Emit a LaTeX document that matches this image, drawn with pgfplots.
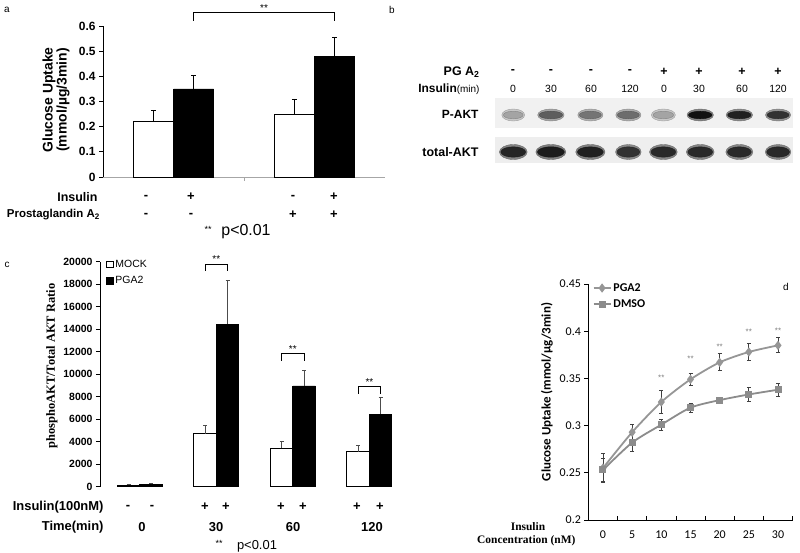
\documentclass[border=0pt]{standalone}
\usepackage{fontspec}
\setmainfont{Liberation Sans}
\newfontfamily\serf{Liberation Serif}
\newfontfamily\calib{Carlito}
\usepackage{pgfplots}
\pgfplotsset{compat=1.18}
\newcommand\fs[1]{\fontsize{#1}{#1}\selectfont}
\begin{document}
\begin{tikzpicture}
\useasboundingbox (0,0) rectangle (800bp,-553bp);
\pgfplotsset{every axis/.append style={scale only axis, clip=false,
  /pgf/number format/assume math mode=true,
  axis line style={line width=0.8bp,-},
  tick style={black,line width=0.8bp}, major tick length=4bp, tick align=outside}}

% ---------------- panel labels
\node[font=\fs{10}] at (7bp,-10bp) {a};
\node[font=\fs{10}] at (392bp,-10bp) {b};
\node[font=\fs{10}] at (7bp,-265bp) {c};
\node[font=\fs{10}] at (786bp,-287bp) {d};

% ================= PANEL A
\begin{axis}[at={(103bp,-177bp)}, anchor=south west, width=282bp, height=151bp,
  xmin=0.5, xmax=2.5, ymin=0, ymax=0.6,
  axis x line*=bottom, axis y line*=left,
  x axis line style={gray!70},
  ytick={0,0.1,0.2,0.3,0.4,0.5,0.6}, xtick={1.5}, xticklabels={},
  x tick style={gray!70},
  yticklabel style={font=\fs{12}\bfseries},
  error bars/y dir=plus, error bars/y explicit,
  error bars/error bar style={line width=0.8bp,black},
  error bars/error mark options={black,line width=0.8bp,mark size=2.5bp,rotate=90}]
\addplot[ybar, bar width=0.284, bar shift=0pt, fill=white, draw=black, line width=0.8bp]
  coordinates {(0.858,0.22) +- (0,0.045) (1.858,0.25) +- (0,0.06)};
\addplot[ybar, bar width=0.284, bar shift=0pt, fill=black, draw=black, line width=0.8bp]
  coordinates {(1.142,0.35) +- (0,0.055) (2.142,0.48) +- (0,0.075)};
\addplot[black, line width=0.6bp, no marks, forget plot]
  coordinates {(1.142,0.62) (1.142,0.653) (2.142,0.653) (2.142,0.62)};
\node[anchor=south, font=\fs{10}, inner sep=1bp] at (axis cs:1.642,0.653) {**};
\end{axis}
\node[anchor=center, font=\fs{14}\bfseries, rotate=90, align=center] at (56bp,-100bp)
  {Glucose Uptake\\(mmol/µg/3min)};
\node[anchor=east, font=\fs{12.5}\bfseries] at (101bp,-197bp) {Insulin};
\node[anchor=east, font=\fs{11.5}\bfseries, inner sep=1bp] at (101bp,-215bp) {Prostaglandin A\textsubscript{2}};
\foreach \xx/\s in {146/-,191/+,293/-,334/+}{\node[font=\fs{13}\bfseries] at (\xx bp,-197bp) {\s};}
\foreach \xx/\s in {146/-,191/-,293/+,334/+}{\node[font=\fs{13}\bfseries] at (\xx bp,-215bp) {\s};}
\node[font=\fs{9}] at (208bp,-229bp) {**};
\node[font=\fs{16}] at (246bp,-232bp) {p<0.01};

% ================= PANEL B (blot)
\begin{axis}[at={(495bp,-163bp)}, anchor=south west, width=298bp, height=65bp,
  xmin=0.5, xmax=8.5, ymin=0, ymax=65, hide axis,
  colormap={blot}{rgb255=(230,230,230) rgb255=(12,12,12)},
  point meta min=0, point meta max=1]
\addplot[fill=gray!11, draw=none, forget plot] coordinates {(0.5,35) (8.5,35) (8.5,65) (0.5,65)} -- cycle;
\addplot[fill=gray!13, draw=none, forget plot] coordinates {(0.5,0) (8.5,0) (8.5,26) (0.5,26)} -- cycle;
% soft halo of the P-AKT bands
\addplot[scatter, only marks, mark=*, scatter src=explicit, mark size=6bp,
  visualization depends on={value \thisrow{w} \as \bw},
  scatter/@pre marker code/.append style={/tikz/xscale=\bw}]
  table[x=x, y=y, meta=d] {
x y d w
0.99 48 0.14 1.9
2.00 48 0.30 2.2
3.06 48 0.25 2.1
4.08 48 0.27 2.1
5.02 48 0.14 2.0
6.01 48 0.45 2.2
7.06 48 0.42 2.2
8.10 48 0.38 2.1
};
\addplot[scatter, only marks, mark=*, scatter src=explicit, mark size=3.8bp,
  visualization depends on={value \thisrow{w} \as \bw},
  scatter/@pre marker code/.append style={/tikz/xscale=\bw}]
  table[x=x, y=y, meta=d] {
x y d w
0.99 48 0.30 2.6
2.00 48 0.62 3.1
3.06 48 0.52 2.9
4.08 48 0.55 2.9
5.02 48 0.30 2.7
6.01 48 0.97 3.1
7.06 48 0.90 3.1
8.10 48 0.82 2.9
};
% soft halo of the total-AKT bands
\addplot[scatter, only marks, mark=*, scatter src=explicit, mark size=7.5bp,
  visualization depends on={value \thisrow{w} \as \bw},
  scatter/@pre marker code/.append style={/tikz/xscale=\bw}]
  table[x=x, y=y, meta=d] {
x y d w
0.99 11 0.45 1.85
2.00 11 0.47 2.0
3.06 11 0.46 1.95
4.08 11 0.42 1.7
5.02 11 0.44 1.85
6.01 11 0.44 1.85
7.06 11 0.44 1.8
8.10 11 0.44 1.7
};
\addplot[scatter, only marks, mark=*, scatter src=explicit, mark size=5.2bp,
  visualization depends on={value \thisrow{w} \as \bw},
  scatter/@pre marker code/.append style={/tikz/xscale=\bw}]
  table[x=x, y=y, meta=d] {
x y d w
0.99 11 0.88 2.4
2.00 11 0.92 2.6
3.06 11 0.90 2.5
4.08 11 0.82 2.2
5.02 11 0.86 2.4
6.01 11 0.86 2.4
7.06 11 0.86 2.3
8.10 11 0.86 2.2
};
\end{axis}
\node[anchor=east, font=\fs{12.5}\bfseries] at (483bp,-72bp) {PG A\textsubscript{2}};
\node[anchor=east, font=\fs{12}] at (483bp,-89bp) {\textbf{Insulin}{\fs{10}(min)}};
\foreach \xx/\s/\n in {513/-/0,551/-/30,591/-/60,630/-/120,664/+/0,699/+/30,742/+/60,778/+/120}{
  \node[font=\fs{12.5}\bfseries] at (\xx bp,-72bp) {\s};
  \node[font=\fs{10.5}] at (\xx bp,-89bp) {\n};}
\node[anchor=east, font=\fs{12}\bfseries] at (482bp,-114bp) {P-AKT};
\node[anchor=east, font=\fs{12.5}\bfseries] at (482bp,-152bp) {total-AKT};

% ================= PANEL C
\begin{axis}[at={(100bp,-486.7bp)}, anchor=south west, width=313bp, height=224.9bp,
  xmin=-0.52, xmax=3.57, ymin=0, ymax=20000,
  axis y line*=left, axis x line=none,
  ytick={0,2000,...,20000}, scaled y ticks=false,
  yticklabel style={font=\fs{10.5}\bfseries, /pgf/number format/set thousands separator={}},
  error bars/y dir=plus, error bars/y explicit,
  error bars/error bar style={line width=0.8bp,black!70},
  error bars/error mark options={black!70,line width=0.8bp,mark size=2bp,rotate=90},
  legend style={at={(axis cs:-0.44,20350)}, anchor=north west, draw=none, fill=none,
    font=\fs{10.5}, inner sep=0pt, row sep=3.5bp, cells={anchor=west}},
  legend image code/.code={\draw[#1,line width=0.7bp] (0bp,-3.2bp) rectangle (6.4bp,3.2bp);}]
\addplot[ybar, bar width=0.294, bar shift=0pt, fill=white, draw=black, line width=0.8bp]
  coordinates {(-0.147,150) +- (0,80) (0.853,4700) +- (0,780) (1.853,3410) +- (0,590) (2.853,3110) +- (0,540)};
\addlegendentry{MOCK}
\addplot[ybar, bar width=0.294, bar shift=0pt, fill=black, draw=black, line width=0.8bp]
  coordinates {(0.147,210) +- (0,100) (1.147,14460) +- (0,3870) (2.147,8960) +- (0,1350) (3.147,6460) +- (0,1450)};
\addlegendentry{PGA2}
\addplot[black, line width=0.6bp, no marks, forget plot]
  coordinates {(0.853,19200) (0.853,19800) (1.147,19800) (1.147,19200)};
\addplot[black, line width=0.6bp, no marks, forget plot]
  coordinates {(1.853,11200) (1.853,11850) (2.147,11850) (2.147,11200)};
\addplot[black, line width=0.6bp, no marks, forget plot]
  coordinates {(2.853,8250) (2.853,8900) (3.147,8900) (3.147,8250)};
\node[anchor=south, font=\fs{10}, inner sep=1bp] at (axis cs:1,19800) {**};
\node[anchor=south, font=\fs{10}, inner sep=1bp] at (axis cs:2,11850) {**};
\node[anchor=south, font=\fs{10}, inner sep=1bp] at (axis cs:3,8900) {**};
\end{axis}
\node[font=\serf\bfseries\fs{12.5}, rotate=90] at (52bp,-366bp) {phosphoAKT/Total AKT Ratio};
\node[anchor=east, font=\fs{13}\bfseries] at (107bp,-507bp) {Insulin(100nM)};
\node[anchor=east, font=\fs{13}\bfseries] at (107bp,-527bp) {Time(min)};
\foreach \xx/\s in {128/-,152/-,205/+,226/+,281/+,303/+,357/+,380/+}{\node[font=\fs{13}\bfseries] at (\xx bp,-507bp) {\s};}
\foreach \xx/\n in {142/0,216/30,293/60,372/120}{\node[font=\fs{13}\bfseries] at (\xx bp,-527bp) {\n};}
\node[font=\fs{9}] at (219bp,-543bp) {**};
\node[font=\fs{13}] at (257bp,-546bp) {p<0.01};

% ================= PANEL D
\begin{axis}[at={(588.4bp,-520bp)}, anchor=south west, width=204.2bp, height=236bp,
  xmin=-2.5, xmax=32.5, ymin=0.2, ymax=0.45,
  axis x line*=bottom, axis y line*=left,
  ytick={0.2,0.25,0.3,0.35,0.4,0.45},
  xtick={0,5,10,15,20,25,30}, major x tick style={draw=none},
  minor xtick={2.5,7.5,12.5,17.5,22.5,27.5,32.5},
  minor tick length=4bp, minor x tick style={black,line width=0.8bp,yshift=4bp},
  ticklabel style={font=\calib\fs{12}},
  xticklabel style={yshift=-3bp},
  error bars/y dir=both, error bars/y explicit,
  error bars/error bar style={line width=0.9bp,black!75},
  error bars/error mark options={black!75,line width=0.9bp,mark size=2bp,rotate=90},
  legend style={at={(axis cs:-1.8,0.453)}, anchor=north west, draw=none, fill=none,
    font=\calib\bfseries\fs{12}, inner sep=0pt, row sep=3bp, cells={anchor=west}}]
\addplot[color={rgb,255:red,150;green,150;blue,150}, line width=1.8bp, smooth, tension=0.45,
  mark=diamond*, mark size=3.2bp, mark options={solid}]
  coordinates {(0,0.255) +- (0,0.015) (5,0.293) +- (0,0.008) (10,0.325) +- (0,0.012)
   (15,0.349) +- (0,0.006) (20,0.367) +- (0,0.009) (25,0.378) +- (0,0.009) (30,0.385) +- (0,0.008)};
\addlegendentry{PGA2}
\addplot[color={rgb,255:red,140;green,140;blue,140}, line width=1.8bp, smooth, tension=0.45,
  mark=square*, mark size=2.6bp, mark options={solid}]
  coordinates {(0,0.253) +- (0,0.012) (5,0.282) +- (0,0.009) (10,0.301) +- (0,0.006)
   (15,0.319) +- (0,0.005) (20,0.327) +- (0,0.002) (25,0.333) +- (0,0.007) (30,0.338) +- (0,0.007)};
\addlegendentry{DMSO}
\foreach \xx/\yy in {10/0.351,15/0.371,20/0.383,25/0.399,30/0.401}{
  \edef\tmp{\noexpand\node[font=\noexpand\fs{8}, text=gray] at (axis cs:\xx,\yy) {**};}\tmp}
\end{axis}
\node[font=\calib\bfseries\fs{13}, rotate=90] at (547bp,-392bp) {Glucose Uptake (mmol/µg/3min)};
\node[font=\serf\bfseries\fs{11.5}] at (528bp,-527bp) {Insulin};
\node[anchor=east, font=\serf\bfseries\fs{11.5}] at (579bp,-541bp) {Concentration (nM)};
\end{tikzpicture}
\end{document}
